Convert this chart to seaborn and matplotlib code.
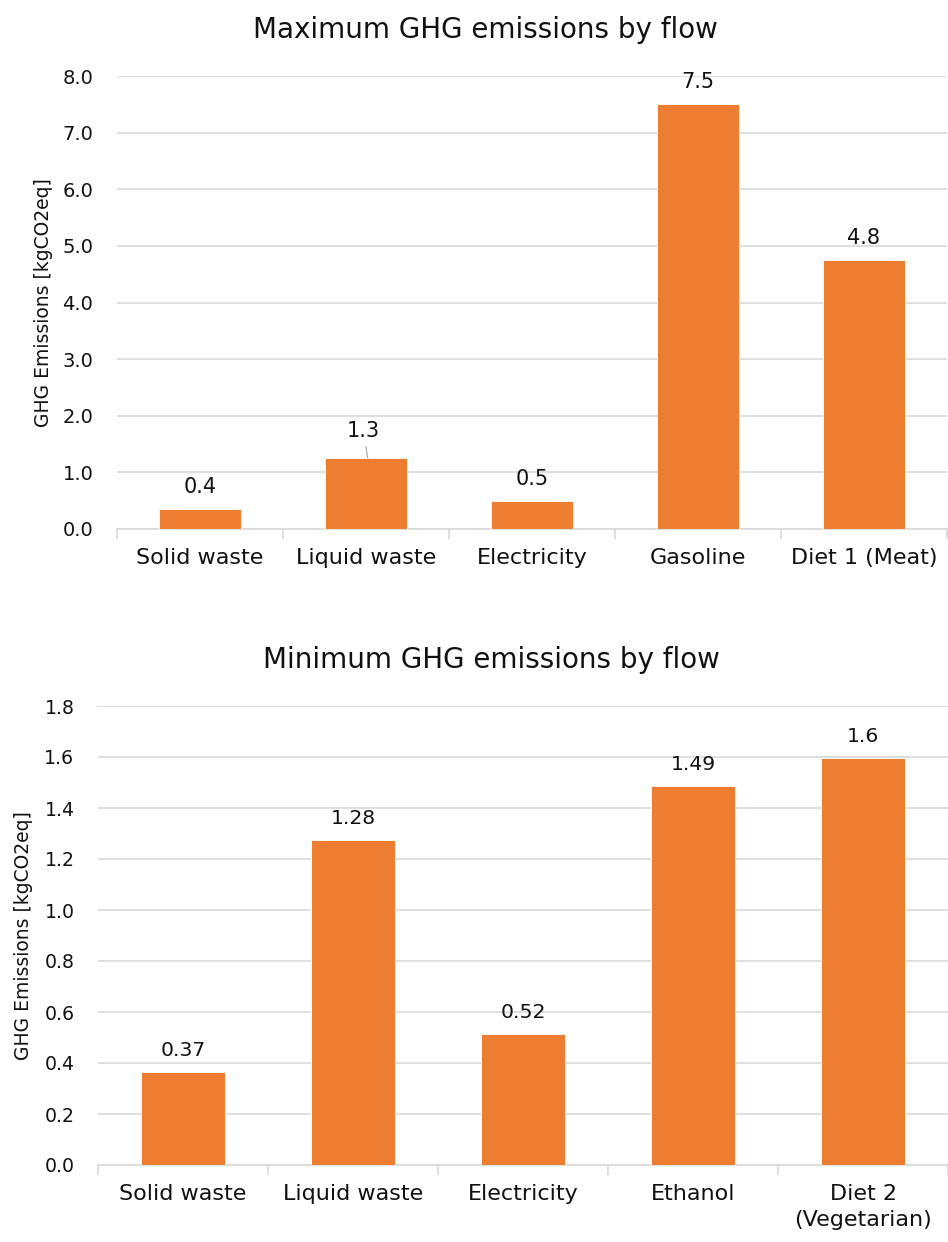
import matplotlib
matplotlib.use("Agg")
import matplotlib.pyplot as plt
import seaborn as sns
import numpy as np

# ---- data ----
max_categories = ["Solid waste", "Liquid waste", "Electricity", "Gasoline", "Diet 1 (Meat)"]
max_values = [0.36, 1.26, 0.5, 7.5, 4.75]
max_labels = ["0.4", "1.3", "0.5", "7.5", "4.8"]

min_categories = ["Solid waste", "Liquid waste", "Electricity", "Ethanol", "Diet 2\n(Vegetarian)"]
min_values = [0.365, 1.275, 0.515, 1.485, 1.595]
min_labels = ["0.37", "1.28", "0.52", "1.49", "1.6"]

max_yticks = [0.0, 1.0, 2.0, 3.0, 4.0, 5.0, 6.0, 7.0, 8.0]
min_yticks = [0.0, 0.2, 0.4, 0.6, 0.8, 1.0, 1.2, 1.4, 1.6, 1.8]

title_max = "Maximum GHG emissions by flow"
title_min = "Minimum GHG emissions by flow"
ylabel = "GHG Emissions [kgCO2eq]"

# ---- style ----
sns.set_theme(style="white")
plt.rcParams['font.family'] = ['DejaVu Sans']

BAR = "#ED7D31"
GRID = "#D9D9D9"
TXT = "#111111"

W, H = 948, 1242
fig = plt.figure(figsize=(W / 100, H / 100), dpi=100)

def px_axes(left, right, top, bottom):
    return fig.add_axes([left / W, 1 - bottom / H, (right - left) / W, (bottom - top) / H])

ax1 = px_axes(117, 947, 76, 529)
ax2 = px_axes(98, 948, 706, 1165)

def style_axes(ax, cats, vals, labels, yticks, ymax, fmt, ytick_size, label_size, special=None):
    sns.barplot(x=cats, y=vals, color=BAR, width=0.49, ax=ax, saturation=1,
                edgecolor="white", linewidth=0.6, zorder=3)
    ax.set_xlim(-0.5, len(cats) - 0.5)
    ax.set_ylim(0, ymax)
    ax.set_yticks(yticks)
    ax.set_yticklabels([fmt.format(t) for t in yticks], fontsize=ytick_size, color=TXT)
    ax.yaxis.grid(True, color=GRID, linewidth=1.2, zorder=0)
    ax.xaxis.grid(False)
    ax.set_axisbelow(True)
    for s in ["left", "right", "top"]:
        ax.spines[s].set_visible(False)
    ax.spines["bottom"].set_color(GRID)
    ax.spines["bottom"].set_linewidth(1.2)
    ax.tick_params(axis="y", length=0, pad=17)
    ax.tick_params(axis="x", which="major", bottom=True, length=0, pad=14, labelsize=16, labelcolor=TXT)
    ax.set_xticks(np.arange(-0.5, len(cats)), minor=True)
    ax.tick_params(axis="x", which="minor", bottom=True, length=7, width=1.2, color=GRID, direction="out")
    ax.set_xlabel("")
    for i, (v, lab) in enumerate(zip(vals, labels)):
        if special is not None and i == special:
            ax.annotate(lab, xy=(i + 0.01, v), xytext=(-3, 15), textcoords="offset points",
                        ha="center", va="baseline", fontsize=label_size, color=TXT,
                        arrowprops=dict(arrowstyle="-", color="#A6A6A6", lw=0.8,
                                        shrinkA=2, shrinkB=0))
        else:
            ax.annotate(lab, xy=(i, v), xytext=(0, 11.5), textcoords="offset points",
                        ha="center", va="baseline", fontsize=label_size, color=TXT)

style_axes(ax1, max_categories, max_values, max_labels, max_yticks, 8.0, "{:.1f}", 14, 15, special=1)
style_axes(ax2, min_categories, min_values, min_labels, min_yticks, 1.8, "{:.1f}", 13.6, 14.7)

for lab in ax2.get_xticklabels():
    lab.set_linespacing(1.35)

ax1.set_ylabel(ylabel, fontsize=13.5, color=TXT)
ax1.yaxis.set_label_coords(-0.077, 0.5)
ax2.set_ylabel(ylabel, fontsize=13.5, color=TXT)
ax2.yaxis.set_label_coords(-0.0765, 0.5)

fig.text(485 / W, 1 - 30 / H, title_max, ha="center", va="center", fontsize=20, color=TXT)
fig.text(491 / W, 1 - 660 / H, title_min, ha="center", va="center", fontsize=20, color=TXT)

fig.savefig("out.png", dpi=100, facecolor="white")
